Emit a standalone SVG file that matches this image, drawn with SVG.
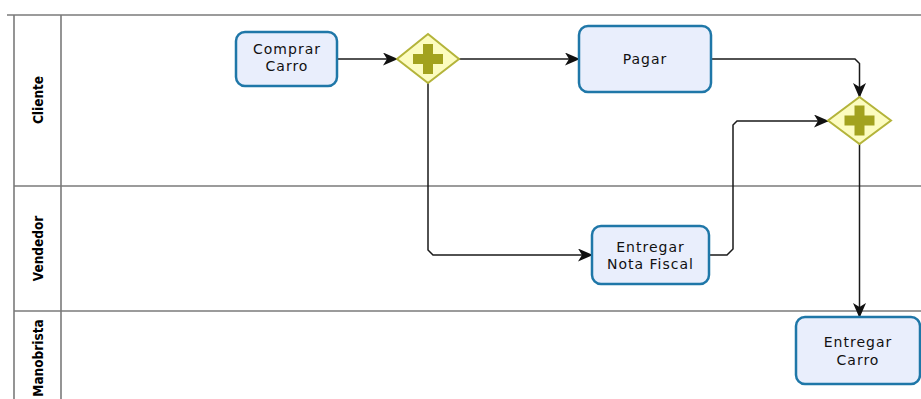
<svg xmlns="http://www.w3.org/2000/svg" width="921" height="399" viewBox="0 0 921 399">
  <style>
    .lane { stroke: #7a7a7a; stroke-width: 1.6; fill: none; }
    .lane-label { font-family: "DejaVu Sans Condensed", "Liberation Sans Narrow", "Liberation Sans", sans-serif; font-weight: bold; font-size: 13.5px; fill: #000; text-anchor: middle; }
    .task rect { fill: #e9eefc; stroke: #1f77a8; stroke-width: 2.5; }
    .task text { font-family: "DejaVu Sans", "Liberation Sans", sans-serif; font-size: 14px; letter-spacing: 1px; fill: #111; text-anchor: middle; }
    .gateway polygon { fill: #fcfcc0; stroke: #b4b43a; stroke-width: 2; }
    .gateway use { fill: #a2a21e; }
    .flow { fill: none; stroke: #1a1a1a; stroke-width: 1.5; marker-end: url(#arrow); }
  </style>
  <defs>
    <marker id="arrow" markerUnits="userSpaceOnUse" markerWidth="16" markerHeight="14" refX="14" refY="6.5" orient="auto">
      <path d="M0,0 L15,6.5 L0,13 L4,6.5 Z" fill="#111"/>
    </marker>
    <!-- plus glyph shared by the parallel gateways -->
    <path id="plus" d="M-5,-15 H5 V-5 H15 V5 H5 V15 H-5 V5 H-15 V-5 H-5 Z"/>
  </defs>

  <rect x="0" y="0" width="921" height="399" fill="#fff"/>

  <!-- pool and lanes -->
  <g id="pool">
    <line class="lane" x1="7" y1="15" x2="921" y2="15"/>
    <line class="lane" x1="14" y1="15" x2="14" y2="399"/>
    <line class="lane" x1="61" y1="15" x2="61" y2="399"/>
    <line class="lane" x1="14" y1="186" x2="921" y2="186"/>
    <line class="lane" x1="14" y1="311" x2="921" y2="311"/>
    <text class="lane-label" transform="translate(42.5,100) rotate(-90)">Cliente</text>
    <text class="lane-label" transform="translate(42.5,248.5) rotate(-90)">Vendedor</text>
    <text class="lane-label" transform="translate(42.5,358) rotate(-90)">Manobrista</text>
  </g>

  <!-- sequence flows -->
  <g id="connectors">
    <path class="flow" d="M337,59 H397"/>
    <path class="flow" d="M459,59 H579"/>
    <path class="flow" d="M711,59 H855 L859.5,63.5 V97"/>
    <path class="flow" d="M428,83 V250 L433,255 H592"/>
    <path class="flow" d="M709,255 H727 L733,249 V125 L737,121 H828"/>
    <path class="flow" d="M859.5,144 V317"/>
  </g>

  <g id="comprar-carro" class="task">
    <rect x="236" y="32" width="101" height="54" rx="9"/>
    <text x="287" y="53.5">Comprar</text>
    <text x="287" y="70.5">Carro</text>
  </g>

  <g id="gateway-split" class="gateway">
    <polygon points="428,34 459,59 428,83 397,59"/>
    <use href="#plus" transform="translate(428,59)"/>
  </g>

  <g id="pagar" class="task">
    <rect x="579" y="26" width="132" height="66" rx="9"/>
    <text x="645" y="64">Pagar</text>
  </g>

  <g id="gateway-join" class="gateway">
    <polygon points="859.5,97 891,120.5 859.5,144 828,120.5"/>
    <use href="#plus" transform="translate(859.5,120.5)"/>
  </g>

  <g id="entregar-nota-fiscal" class="task">
    <rect x="592" y="226" width="117" height="58" rx="9"/>
    <text x="650.5" y="252">Entregar</text>
    <text x="650.5" y="268.5">Nota Fiscal</text>
  </g>

  <g id="entregar-carro" class="task">
    <rect x="796" y="317" width="124" height="67" rx="9"/>
    <text x="858" y="347">Entregar</text>
    <text x="858" y="364.5">Carro</text>
  </g>
</svg>
